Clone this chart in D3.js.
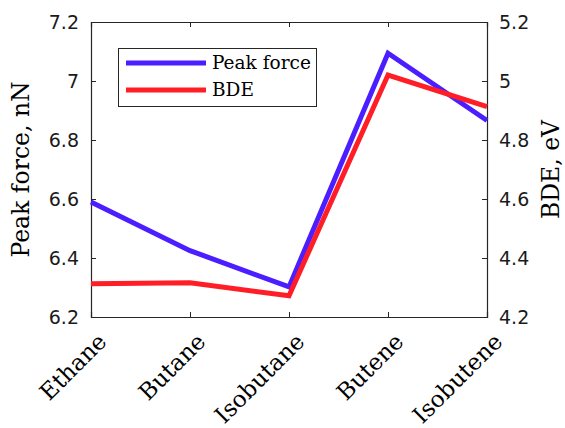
<!DOCTYPE html>
<html>
<head>
<meta charset="utf-8">
<script src="https://cdn.jsdelivr.net/npm/d3@7"></script>
<style>
  html, body { margin: 0; padding: 0; background: #fff; }
  svg { display: block; }
</style>
</head>
<body>
<svg id="chart" width="565" height="428"></svg>
<script>
// Molecules along the x axis
const categories = ["Ethane", "Butane", "Isobutane", "Butene", "Isobutene"];
// Peak force (nN), left axis
const peakForce = [6.59, 6.425, 6.302, 7.094, 6.866];
// Bond dissociation energy (eV), right axis
const bde = [4.313, 4.316, 4.272, 5.02, 4.913];
// Tick values
const leftTicks = [6.2, 6.4, 6.6, 6.8, 7.0, 7.2];
const rightTicks = [4.2, 4.4, 4.6, 4.8, 5.0, 5.2];

const svg = d3.select("#chart");
const m = { left: 91, right: 487, top: 22, bottom: 317 };

const x = d3.scalePoint().domain(categories).range([m.left, m.right]);
const yL = d3.scaleLinear().domain([6.2, 7.2]).range([m.bottom, m.top]);
const yR = d3.scaleLinear().domain([4.2, 5.2]).range([m.bottom, m.top]);

const tickFont = "'DejaVu Sans', sans-serif";
const serif = "'DejaVu Serif', serif";
const fmt = d => d3.format("~g")(d);

// Left axis (ticks inward)
const gL = svg.append("g").attr("transform", `translate(${m.left},0)`)
  .call(d3.axisLeft(yL).tickValues(leftTicks).tickSize(-5).tickPadding(12).tickFormat(fmt));
// Right axis
const gR = svg.append("g").attr("transform", `translate(${m.right},0)`)
  .call(d3.axisRight(yR).tickValues(rightTicks).tickSize(-5).tickPadding(12).tickFormat(fmt));
// Bottom axis
const gB = svg.append("g").attr("transform", `translate(0,${m.bottom})`)
  .call(d3.axisBottom(x).tickSize(-5).tickFormat(""));
// Top axis
const gT = svg.append("g").attr("transform", `translate(0,${m.top})`)
  .call(d3.axisTop(x).tickSize(-5).tickFormat(""));

[gL, gR, gB, gT].forEach(g => {
  g.selectAll("path.domain").attr("stroke", "#262626").attr("stroke-width", 1.2);
  g.selectAll(".tick line").attr("stroke", "#262626").attr("stroke-width", 1);
  g.selectAll(".tick text").attr("font-family", tickFont).attr("font-size", 19).attr("fill", "#1a1a1a");
});
// Drop tick marks at the corners of the box
[gB, gT].forEach(g => g.selectAll(".tick").filter((d, i) => i === 0 || i === categories.length - 1).select("line").remove());
[gL, gR].forEach(g => g.selectAll(".tick").filter((d, i) => i === 0 || i === leftTicks.length - 1).select("line").remove());

// Rotated category labels
svg.append("g").selectAll("text").data(categories).join("text")
  .attr("transform", d => `translate(${x(d) + 17},${m.bottom + 26}) rotate(-45)`)
  .attr("text-anchor", "end")
  .attr("font-family", serif)
  .attr("font-size", 23)
  .attr("fill", "#000")
  .text(d => d);

// Axis titles
svg.append("text")
  .attr("transform", `translate(29,${(m.top + m.bottom) / 2}) rotate(-90)`)
  .attr("text-anchor", "middle")
  .attr("font-family", serif).attr("font-size", 23.5)
  .text("Peak force, nN");
svg.append("text")
  .attr("transform", `translate(559,${(m.top + m.bottom) / 2}) rotate(-90)`)
  .attr("text-anchor", "middle")
  .attr("font-family", serif).attr("font-size", 23.5)
  .text("BDE, eV");

// Series lines
const blue = "#4b1eff";
const red = "#ff1e26";
const lineL = d3.line().x((d, i) => x(categories[i])).y(d => yL(d));
const lineR = d3.line().x((d, i) => x(categories[i])).y(d => yR(d));

svg.append("path").datum(peakForce).attr("d", lineL)
  .attr("fill", "none").attr("stroke", blue).attr("stroke-width", 5);
svg.append("path").datum(bde).attr("d", lineR)
  .attr("fill", "none").attr("stroke", red).attr("stroke-width", 5);

// Legend
const leg = svg.append("g");
leg.append("rect").attr("x", 118.5).attr("y", 48.5).attr("width", 198).attr("height", 58)
  .attr("fill", "#fff").attr("stroke", "#262626").attr("stroke-width", 1);
const items = [{ label: "Peak force", color: blue }, { label: "BDE", color: red }];
items.forEach((it, i) => {
  const yy = 63 + i * 27;
  leg.append("line").attr("x1", 126).attr("x2", 206).attr("y1", yy).attr("y2", yy)
    .attr("stroke", it.color).attr("stroke-width", 5);
  leg.append("text").attr("x", 212).attr("y", yy + 6)
    .attr("font-family", serif).attr("font-size", 18.5).text(it.label);
});
</script>
</body>
</html>
